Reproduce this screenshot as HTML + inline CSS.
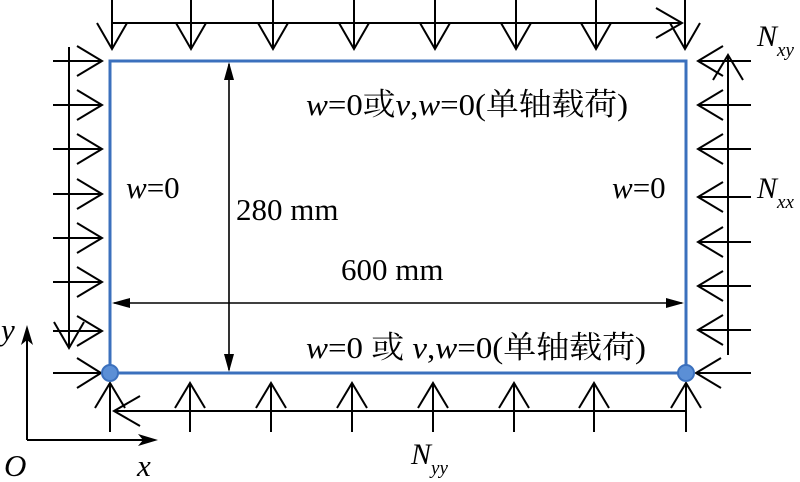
<!DOCTYPE html>
<html><head><meta charset="utf-8"><style>
html,body{margin:0;padding:0;background:#fff;}
svg{display:block;}
text{font-family:"Liberation Serif","Noto Serif CJK SC",serif;fill:#000;}
</style></head><body>
<svg width="800" height="482" viewBox="0 0 800 482" xmlns="http://www.w3.org/2000/svg">
<g stroke="#000" stroke-width="2" fill="none">
<path d="M112,0V49M97,23L112,49L127,23"/>
<path d="M191,0V49M176,23L191,49L206,23"/>
<path d="M273,0V49M258,23L273,49L288,23"/>
<path d="M354,0V49M339,23L354,49L369,23"/>
<path d="M435,0V49M420,23L435,49L450,23"/>
<path d="M516,0V49M501,23L516,49L531,23"/>
<path d="M596,0V49M581,23L596,49L611,23"/>
<path d="M685,0V49M670,23L685,49L700,23"/>
<path d="M113,23H682M656,8L682,23L656,38"/>
<path d="M110,432V383M95,408L110,383L125,408"/>
<path d="M190,432V383M175,408L190,383L205,408"/>
<path d="M271,432V383M256,408L271,383L286,408"/>
<path d="M352,432V383M337,408L352,383L367,408"/>
<path d="M433,432V383M418,408L433,383L448,408"/>
<path d="M514,432V383M499,408L514,383L529,408"/>
<path d="M594,432V383M579,408L594,383L609,408"/>
<path d="M686,432V383M671,408L686,383L701,408"/>
<path d="M686,411H114M140,396L114,411L140,426"/>
<path d="M53,61H102M77,46L102,61L77,76"/>
<path d="M53,105H102M77,90L102,105L77,120"/>
<path d="M53,149H102M77,134L102,149L77,164"/>
<path d="M53,194H102M77,179L102,194L77,209"/>
<path d="M53,238H102M77,223L102,238L77,253"/>
<path d="M53,282H102M77,267L102,282L77,297"/>
<path d="M53,331H102M77,316L102,331L77,346"/>
<path d="M53,373H101M77,358L101,373L77,388"/>
<path d="M69,47V348M54,322L69,348L84,322"/>
<path d="M751,61H698M723,46L698,61L723,76"/>
<path d="M751,105H698M723,90L698,105L723,120"/>
<path d="M751,149H698M723,134L698,149L723,164"/>
<path d="M751,197H698M723,182L698,197L723,212"/>
<path d="M751,242H698M723,227L698,242L723,257"/>
<path d="M751,286H698M723,271L698,286L723,301"/>
<path d="M751,330H698M723,315L698,330L723,345"/>
<path d="M751,373H696M721,358L696,373L721,388"/>
<path d="M728,355V57M713,80L728,55L743,80"/>
<path d="M27,440V330M27,440H152"/>
</g>
<path d="M27,325L21,345L27,340L33,345Z" fill="#000"/>
<path d="M158,440L138,434L143,440L138,446Z" fill="#000"/>
<g stroke="#000" stroke-width="1.6"><path d="M229,64V370M114,303H682"/></g>
<path d="M229,62L224,80L234,80Z M229,372L224,354L234,354Z M112,303L130,298L130,308Z M684,303L666,298L666,308Z" fill="#000"/>
<rect x="110" y="61" width="576" height="312" fill="none" stroke="#3b70bd" stroke-width="3"/>
<circle cx="110" cy="373" r="8" fill="#5b8fd6" stroke="#3b70bd" stroke-width="2"/>
<circle cx="686" cy="373" r="8" fill="#5b8fd6" stroke="#3b70bd" stroke-width="2"/>
<g font-size="31">
<text x="306" y="115" textLength="322" lengthAdjust="spacingAndGlyphs"><tspan font-style="italic">w</tspan>=0或<tspan font-style="italic">v</tspan>,<tspan font-style="italic">w</tspan>=0(单轴载荷)</text>
<text x="306" y="358" textLength="340" lengthAdjust="spacingAndGlyphs"><tspan font-style="italic">w</tspan>=0 或 <tspan font-style="italic">v</tspan>,<tspan font-style="italic">w</tspan>=0(单轴载荷)</text>
<text x="126" y="198"><tspan font-style="italic">w</tspan>=0</text>
<text x="612" y="198"><tspan font-style="italic">w</tspan>=0</text>
<text x="236" y="220">280 mm</text>
<text x="341" y="280">600 mm</text>
<text x="757" y="46" font-style="italic" font-size="30">N<tspan font-size="19" dy="10">xy</tspan></text>
<text x="757" y="198" font-style="italic" font-size="30">N<tspan font-size="19" dy="10">xx</tspan></text>
<text x="411" y="464" font-style="italic" font-size="30">N<tspan font-size="19" dy="10">yy</tspan></text>
<text x="1" y="340" font-style="italic">y</text>
<text x="4" y="476" font-style="italic">O</text>
<text x="137" y="476" font-style="italic">x</text>
</g>
</svg>
</body></html>
